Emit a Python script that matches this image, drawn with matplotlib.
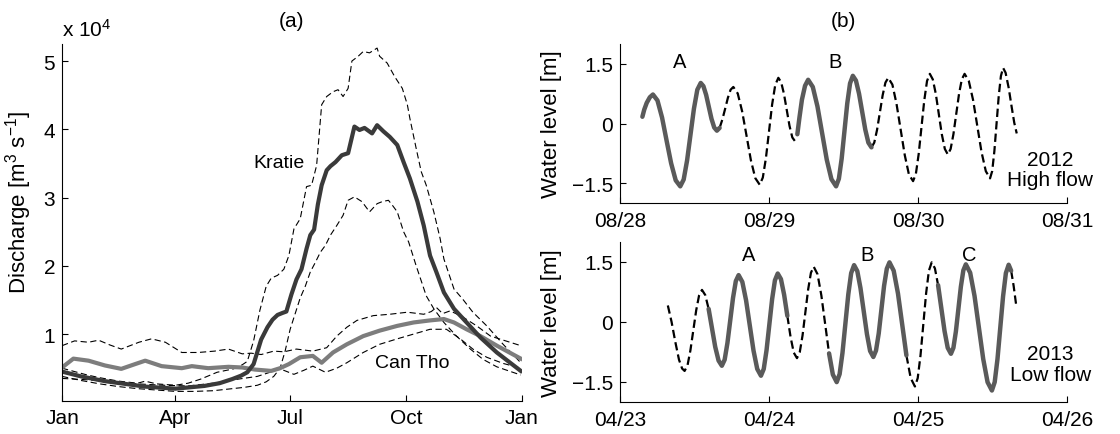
import numpy as np
import matplotlib
matplotlib.use("Agg")
import matplotlib.pyplot as plt

plt.rcParams["font.family"] = ["Liberation Sans", "DejaVu Sans"]
plt.rcParams["mathtext.default"] = "regular"
plt.rcParams["lines.scale_dashes"] = False

nan = np.nan

# (a) discharge, values in 10^4 m3/s, x = day of year
kratie_day = [0, 15, 34, 50, 66, 90, 113, 125, 135, 142, 147, 152, 158, 163, 167, 171, 175, 178, 182, 186,
              190, 194, 197, 200, 203, 206, 210, 213, 217, 222, 227, 232, 236, 240, 243, 246, 250, 255, 260, 266,
              271, 276, 282, 287, 292, 297, 303, 311, 321, 332, 345, 364]
kratie_mean = [0.45, 0.38, 0.31, 0.27, 0.23, 0.20, 0.24, 0.28, 0.34, 0.39, 0.44, 0.56, 0.92, 1.10, 1.21, 1.28, 1.31, 1.33, 1.58, 1.80,
               1.95, 2.25, 2.45, 2.53, 2.90, 3.18, 3.40, 3.46, 3.52, 3.62, 3.65, 4.04, 3.99, 4.02, 3.98, 3.94, 4.06, 3.97, 3.89, 3.77,
               3.52, 3.28, 2.94, 2.59, 2.15, 1.91, 1.61, 1.37, 1.17, 0.95, 0.73, 0.46]

kratie_hi_day = [0, 10, 20, 30, 45, 60, 66, 75, 90, 100, 110, 123, 136, 143, 147, 152, 157, 162, 166, 171,
                 176, 180, 184, 189, 194, 198, 202, 206, 210, 215, 219, 223, 227, 230, 235, 239, 244, 250, 252, 258,
                 264, 270, 274, 276, 281, 285, 289, 295, 300, 303, 311, 318, 326, 337, 350, 364]
kratie_hi = [0.50, 0.45, 0.40, 0.36, 0.31, 0.28, 0.31, 0.27, 0.25, 0.28, 0.34, 0.44, 0.49, 0.55, 0.60, 0.90, 1.35, 1.70, 1.82, 1.86,
             1.95, 2.15, 2.54, 2.69, 3.16, 3.18, 3.47, 4.36, 4.48, 4.55, 4.58, 4.48, 4.60, 5.00, 5.07, 5.14, 5.12, 5.19, 5.07, 4.97,
             4.77, 4.60, 4.36, 4.16, 3.72, 3.38, 3.18, 2.79, 2.40, 2.10, 1.66, 1.51, 1.32, 1.12, 0.85, 0.58]

kratie_lo_day = [0, 15, 30, 45, 60, 75, 90, 105, 120, 135, 145, 155, 162, 168, 173, 177, 181, 185, 189, 193,
                 197, 201, 205, 209, 213, 218, 223, 227, 232, 238, 244, 250, 254, 259, 262, 266, 271, 275, 281, 289,
                 295, 303, 313, 324, 334, 345, 364]
kratie_lo = [0.38, 0.32, 0.27, 0.23, 0.20, 0.18, 0.16, 0.16, 0.17, 0.20, 0.22, 0.25, 0.30, 0.38, 0.50, 0.75, 1.07, 1.30, 1.53, 1.70,
             1.91, 2.05, 2.20, 2.30, 2.45, 2.59, 2.74, 2.96, 3.01, 2.94, 2.79, 2.91, 2.94, 2.96, 2.89, 2.79, 2.50, 2.35, 2.00, 1.56,
             1.37, 1.17, 0.97, 0.78, 0.63, 0.52, 0.40]

cantho_day = [0, 9, 21, 34, 47, 58, 66, 79, 95, 103, 116, 132, 143, 153, 166, 173, 180, 189, 199, 206,
              215, 226, 239, 252, 266, 279, 292, 303, 311, 321, 332, 345, 364]
cantho_mean = [0.51, 0.64, 0.61, 0.54, 0.49, 0.56, 0.61, 0.53, 0.50, 0.53, 0.50, 0.52, 0.51, 0.48, 0.46, 0.50, 0.56, 0.66, 0.68, 0.58,
               0.73, 0.85, 0.97, 1.05, 1.12, 1.17, 1.20, 1.22, 1.17, 1.07, 0.97, 0.83, 0.64]

cantho_hi_day = [0, 10, 21, 29, 38, 47, 61, 71, 82, 95, 108, 121, 132, 143, 150, 158, 168, 176, 186, 199,
                 210, 218, 226, 234, 247, 260, 274, 287, 293, 297, 302, 308, 318, 329, 340, 352, 364]
cantho_hi = [0.83, 0.90, 0.88, 0.91, 0.84, 0.78, 0.88, 0.93, 0.88, 0.73, 0.73, 0.75, 0.78, 0.71, 0.72, 0.70, 0.75, 0.74, 0.78, 0.75,
             0.80, 0.97, 1.10, 1.20, 1.27, 1.29, 1.32, 1.29, 1.33, 1.39, 1.30, 1.34, 1.25, 1.12, 0.97, 0.90, 0.83]

cantho_lo_day = [0, 20, 40, 60, 80, 100, 120, 140, 155, 165, 173, 184, 192, 199, 209, 218, 226, 239, 252, 266,
                 279, 292, 305, 316, 326, 337, 350, 364]
cantho_lo = [0.35, 0.33, 0.30, 0.27, 0.25, 0.24, 0.28, 0.34, 0.38, 0.44, 0.49, 0.41, 0.47, 0.53, 0.44, 0.50, 0.58, 0.73, 0.85, 0.93,
             1.00, 1.07, 1.07, 0.93, 0.78, 0.66, 0.57, 0.50]

month_ticks = [0, 90, 181, 273, 365]
month_labels = ["Jan", "Apr", "Jul", "Oct", "Jan"]

# (b) water level [m], x = hours from the first day shown
hi_solid_t = [3.6, 3.9, 4.3, 4.8, 5.3, 6.03, 6.77, 7.5, 8.23, 8.97, 9.7, 10.25, 10.8, 11.35, 11.9, 12.45, 13.0,
              13.43, 13.87, 14.3, 14.73, 15.17, 15.6, 16.04, nan,
              28.56, 28.9, 29.3, 29.8, 30.3, 31.05, 31.8, 32.55, 33.3, 34.05, 34.8, 35.25, 35.7, 36.15, 36.6, 37.05,
              37.5, 38.0, 38.5, 39.0, 39.5, 40.0, 40.5]
hi_solid_z = [0.17, 0.35, 0.52, 0.66, 0.73, 0.58, 0.15, -0.43, -1.00, -1.43, -1.58, -1.41, -0.93, -0.28, 0.37, 0.85, 1.02,
              0.94, 0.72, 0.42, 0.12, -0.10, -0.18, -0.11, nan,
              -0.27, 0.15, 0.60, 0.95, 1.10, 0.92, 0.43, -0.24, -0.91, -1.40, -1.58, -1.39, -0.885, -0.19, 0.505, 1.01,
              1.20, 1.08, 0.75, 0.30, -0.15, -0.48, -0.60]
hi_dash_t = [16.04, 16.48, 16.93, 17.37, 17.81, 18.25, 18.96, 19.67, 20.38, 21.08, 21.79, 22.5, 23.0, 23.5, 24.0,
             24.5, 25.0, 25.5, 25.95, 26.4, 26.85, 27.3, 27.75, 28.3, nan,
             40.5, 40.95, 41.4, 41.85, 42.3, 42.75, 43.2, 43.87, 44.53, 45.2, 45.87, 46.53, 47.2, 47.65, 48.1, 48.55,
             49.0, 49.45, 49.9, 50.38, 50.87, 51.35, 51.83, 52.32, 52.8, 53.25, 53.7, 54.15, 54.6, 55.05, 55.5,
             56.18, 56.87, 57.55, 58.23, 58.92, 59.6, 59.95, 60.3, 60.65, 61.0, 61.35, 61.7, 62.1, 62.6, 63.1,
             63.5, 63.9]
hi_dash_z = [-0.11, 0.10, 0.37, 0.645, 0.85, 0.92, 0.755, 0.305, -0.31, -0.925, -1.375, -1.54, -1.36, -0.87, -0.195,
             0.48, 0.97, 1.15, 1.04, 0.75, 0.345, -0.06, -0.35, -0.47, nan,
             -0.60, -0.48, -0.16, 0.275, 0.71, 1.03, 1.15, 0.98, 0.50, -0.15, -0.80, -1.28, -1.45, -1.27, -0.775, -0.10,
             0.575, 1.07, 1.25, 1.11, 0.74, 0.235, -0.27, -0.64, -0.78, -0.64, -0.27, 0.235, 0.74, 1.11, 1.25,
             1.07, 0.59, -0.065, -0.72, -1.20, -1.38, -1.195, -0.69, 0.0, 0.69, 1.195, 1.40, 1.28, 0.90, 0.40,
             0.02, -0.25]

lo_solid_t = [14.27, 14.8, 15.33, 15.87, 16.4, 16.85, 17.3, 17.75, 18.2, 18.65, 19.1, 19.7, 20.3, 20.9, 21.5, 22.1,
              22.7, 23.15, 23.6, 24.05, 24.5, 24.95, 25.4, 25.92, 26.43, 26.95, nan,
              33.67, 34.28, 34.9, 35.37, 35.83, 36.3, 36.77, 37.23, 37.7, 38.22, 38.73, 39.25, 39.77, 40.28, 40.8,
              41.23, 41.67, 42.1, 42.53, 42.97, 43.4, 44.08, 44.77, 45.45, 46.13, nan,
              51.23, 51.75, 52.27, 52.78, 53.3, 53.7, 54.1, 54.5, 54.9, 55.3, 55.7, 56.4, 57.1, 57.8, 58.5, 59.2,
              59.9, 60.35, 60.8, 61.25, 61.7, 62.15, 62.6, 63.0]
lo_solid_z = [0.325, -0.15, -0.625, -0.97, -1.10, -0.95, -0.53, 0.035, 0.60, 1.02, 1.17, 1.00, 0.54, -0.09, -0.72, -1.18,
              -1.35, -1.18, -0.71, -0.07, 0.57, 1.04, 1.21, 1.07, 0.68, 0.15, nan,
              -0.79, -1.32, -1.51, -1.31, -0.78, -0.045, 0.69, 1.22, 1.42, 1.27, 0.845, 0.27, -0.305, -0.73, -0.88,
              -0.72, -0.29, 0.305, 0.90, 1.33, 1.49, 1.28, 0.71, -0.065, -0.84, nan,
              0.92, 0.345, -0.23, -0.65, -0.80, -0.65, -0.24, 0.32, 0.88, 1.29, 1.44, 1.23, 0.65, -0.14, -0.93, -1.51,
              -1.72, -1.51, -0.93, -0.145, 0.64, 1.22, 1.43, 1.28]
lo_dash_t = [7.7, 8.3, 8.9, 9.5, 10.0, 10.4, 10.87, 11.33, 11.8, 12.27, 12.73, 13.2, 13.73, 14.27, nan,
             26.95, 27.47, 27.98, 28.5, 28.95, 29.4, 29.85, 30.3, 30.75, 31.2, 31.82, 32.43, 33.05, 33.67, nan,
             46.13, 46.82, 47.5, 47.95, 48.4, 48.85, 49.3, 49.75, 50.2, 50.72, 51.23, nan,
             63.0, 63.4, 63.8]
lo_dash_z = [0.41, 0.0, -0.5, -0.95, -1.17, -1.23, -1.09, -0.72, -0.215, 0.29, 0.66, 0.80, 0.67, 0.325, nan,
             0.15, -0.38, -0.77, -0.91, -0.76, -0.34, 0.235, 0.81, 1.23, 1.38, 1.19, 0.66, -0.065, -0.79, nan,
             -0.84, -1.41, -1.62, -1.41, -0.84, -0.065, 0.71, 1.28, 1.49, 1.34, 0.92, nan,
             1.28, 0.90, 0.43]

hour_ticks = [0, 24, 48, 72]
hi_dates = ["08/28", "08/29", "08/30", "08/31"]
lo_dates = ["04/23", "04/24", "04/25", "04/26"]
level_ticks = [-1.5, 0, 1.5]
level_labels = ["\u22121.5", "0", "1.5"]

TICK_FS = 15
LABEL_FS = 16


def style_axes(ax):
    for side in ["top", "right"]:
        ax.spines[side].set_visible(False)
    for side in ["left", "bottom"]:
        ax.spines[side].set_linewidth(0.8)
    ax.tick_params(direction="in", length=4, width=0.8, labelsize=TICK_FS, pad=5)


fig = plt.figure(figsize=(11.2, 4.35), dpi=100)

# ---- (a) ----
ax = fig.add_axes([0.0554, 0.0752, 0.4107, 0.8214])
env = dict(color="black", lw=0.8, dashes=(4.5, 2.5))
ax.plot(kratie_hi_day, kratie_hi, **env)
ax.plot(kratie_lo_day, kratie_lo, **env)
ax.plot(cantho_hi_day, cantho_hi, **env)
ax.plot(cantho_lo_day, cantho_lo, **env)
ax.plot(cantho_day, cantho_mean, color="#7d7d7d", lw=3.0, solid_joinstyle="round")
ax.plot(kratie_day, kratie_mean, color="#3a3a3a", lw=3.0, solid_joinstyle="round")

ax.set_xlim(0, 365)
ax.set_ylim(0.015, 5.25)
ax.set_xticks(month_ticks)
ax.set_xticklabels(month_labels)
ax.set_yticks([1, 2, 3, 4, 5])
ax.set_yticklabels(["1", "2", "3", "4", "5"])
style_axes(ax)
ax.set_ylabel("Discharge [m$^3$ s$^{-1}$]", fontsize=LABEL_FS)
ax.yaxis.set_label_coords(-0.061, 0.56)
ax.text(0, 1.022, "x 10$^4$", transform=ax.transAxes, ha="left", va="baseline", fontsize=TICK_FS)
ax.text(172, 3.51, "Kratie", ha="center", va="center", fontsize=14)
ax.text(277.5, 0.58, "Can Tho", ha="center", va="center", fontsize=14)

# ---- (b) ----
axh = fig.add_axes([0.5536, 0.531, 0.3991, 0.3655])
axl = fig.add_axes([0.5536, 0.0743, 0.3991, 0.3671])

panels = [
    (axh, hi_solid_t, hi_solid_z, hi_dash_t, hi_dash_z, hi_dates,
     ["A", "B"], [9.66, 34.6], 1.56, "2012\nHigh flow", -1.16),
    (axl, lo_solid_t, lo_solid_z, lo_dash_t, lo_dash_z, lo_dates,
     ["A", "B", "C"], [20.7, 39.8, 56.3], 1.69, "2013\nLow flow", -1.06),
]
for a, st, sz, dt, dz, dates, letters, lx, ly, note, ny in panels:
    a.plot(dt, dz, color="black", lw=1.6, dashes=(6, 3))
    a.plot(st, sz, color="#5a5a5a", lw=3.2, solid_joinstyle="round", solid_capstyle="round")
    a.set_xlim(0, 72)
    a.set_ylim(-2, 2)
    a.set_xticks(hour_ticks)
    a.set_xticklabels(dates)
    a.set_yticks(level_ticks)
    a.set_yticklabels(level_labels)
    style_axes(a)
    a.tick_params(axis="x", pad=6)
    a.set_ylabel("Water level [m]", fontsize=LABEL_FS)
    a.yaxis.set_label_coords(-0.13, 0.5)
    for letter, x in zip(letters, lx):
        a.text(x, ly, letter, ha="center", va="center", fontsize=14.5)
    a.text(69.3, ny, note, ha="center", va="center", fontsize=15, linespacing=1.1)

fig.text(0.2607, 0.950, "(a)", ha="center", va="center", fontsize=15)
fig.text(0.7527, 0.950, "(b)", ha="center", va="center", fontsize=15)

fig.savefig("out.png", dpi=100)
